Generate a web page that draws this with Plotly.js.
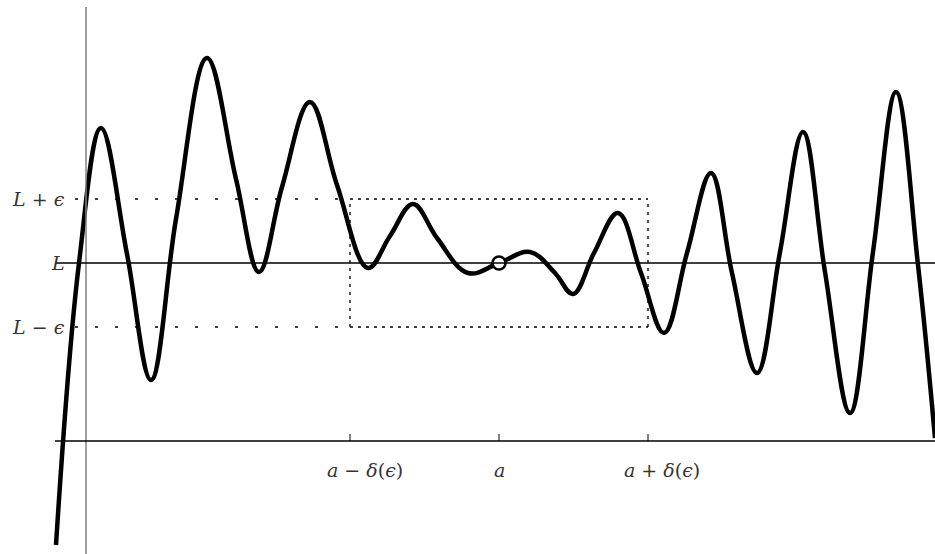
<!DOCTYPE html>
<html><head><meta charset="utf-8">
<script src="https://cdn.plot.ly/plotly-3.0.1.min.js"></script>
<style>html,body{margin:0;padding:0;background:#fff}#c{width:935px;height:554px}</style>
</head><body><div id="c"></div>
<script>
// curve samples (data units): extrema and mid-height points
const curveX = [-0.30,-0.07,0.15,0.41,0.65,0.90,1.21,1.50,1.73,1.96,2.24,2.51,2.82,3.04,3.27,3.51,3.82,4.13,4.44,4.69,4.87,5.08,5.32,5.55,5.78,6.01,6.25,6.46,6.71,6.94,7.17,7.39,7.64,7.87,8.10,8.32,8.49];
const curveY = [-1.04,1.78,3.13,1.87,0.61,2.22,3.83,2.62,1.69,2.54,3.39,2.56,1.73,2.05,2.37,2.03,1.68,1.78,1.89,1.68,1.47,1.88,2.28,1.68,1.08,1.88,2.68,1.68,0.68,1.89,3.09,1.69,0.28,1.89,3.49,1.76,0.03];
const L = 1.78, eps = 0.64, a = 4.13, delta = 1.49;
const tickVals = [a - delta, a, a + delta];
const tickText = ['<i>a</i> − <i>δ</i>(<i>ϵ</i>)', '<i>a</i>', '<i>a</i> + <i>δ</i>(<i>ϵ</i>)'];
const tickShift = [15, 0, 14];
const yLabels = ['<i>L</i> + <i>ϵ</i>', '<i>L</i>', '<i>L</i> − <i>ϵ</i>'];
const yLabelVals = [L + eps, L, L - eps];

const xMin = -0.86, xMax = 8.49, yMin = -1.13, yMax = 4.41;
const xLeft = -0.31;
const font = {family: 'DejaVu Serif, Liberation Serif, serif', size: 19, color: '#333'};
const sparse = {color:'#000', width:1.3, dash:'3px,17px'};
const dense = {color:'#000', width:1.3, dash:'3px,5px'};

const shapes = [
  {type:'line', x0:0, x1:0, y0:yMin, y1:4.34, line:{color:'#808080', width:1.5}},
  {type:'line', x0:xLeft, x1:xMax, y0:0, y1:0, line:{color:'#000', width:1.3}},
  {type:'line', x0:xLeft, x1:xMax, y0:L, y1:L, line:{color:'#000', width:1.3}},
  {type:'line', x0:-0.11, x1:a - delta, y0:L + eps, y1:L + eps, line:sparse},
  {type:'line', x0:-0.11, x1:a - delta, y0:L - eps, y1:L - eps, line:sparse},
  {type:'line', x0:a - delta, x1:a + delta, y0:L + eps, y1:L + eps, line:dense},
  {type:'line', x0:a - delta, x1:a + delta, y0:L - eps, y1:L - eps, line:dense},
  {type:'line', x0:a - delta, x1:a - delta, y0:L - eps, y1:L + eps, line:dense},
  {type:'line', x0:a + delta, x1:a + delta, y0:L - eps, y1:L + eps, line:dense}
];
tickVals.forEach(v => shapes.push({type:'line', x0:v, x1:v, y0:0, y1:0.07, line:{color:'#000', width:1}}));

const annotations = [];
tickVals.forEach((v,i) => annotations.push({x:v, y:-0.29, xref:'x', yref:'y', xshift:tickShift[i], text:tickText[i], showarrow:false, font:font, xanchor:'center', yanchor:'middle'}));
yLabelVals.forEach((v,i) => annotations.push({x:-0.19, y:v, xref:'x', yref:'y', text:yLabels[i], showarrow:false, font:font, xanchor:'right', yanchor:'middle'}));

const traces = [
  {x:curveX, y:curveY, mode:'lines', line:{color:'#000', width:4.5, shape:'spline', smoothing:1.1}, hoverinfo:'skip'},
  {x:[a], y:[L], mode:'markers', marker:{color:'#fff', size:13, line:{color:'#000', width:2.6}}, hoverinfo:'skip'}
];

Plotly.newPlot('c', traces, {
  width:935, height:554, margin:{l:0,r:0,t:0,b:0}, showlegend:false,
  paper_bgcolor:'#fff', plot_bgcolor:'#fff',
  xaxis:{range:[xMin,xMax], visible:false, fixedrange:true},
  yaxis:{range:[yMin,yMax], visible:false, fixedrange:true},
  shapes:shapes, annotations:annotations
}, {staticPlot:true});
</script></body></html>
